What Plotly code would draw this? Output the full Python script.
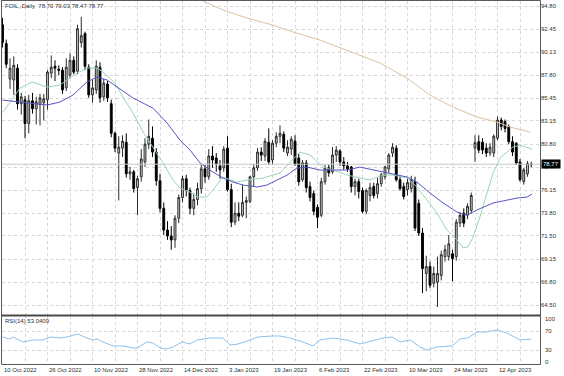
import plotly.graph_objects as go

# ---------------- data ----------------
opens = [92.9, 91.0, 87.4, 87.3, 88.5, 84.9, 85.3, 82.9, 85.2, 84.4, 84.8, 85.0, 85.3, 88.0, 88.7, 88.4, 88.3, 86.5, 87.8, 89.3,
         88.2, 91.1, 92.0, 88.6, 85.8, 86.3, 88.6, 85.6, 86.9, 84.9, 81.9, 79.9, 80.4, 81.0, 77.8, 78.0, 76.4, 77.5, 79.0, 80.8,
         81.4, 80.0, 77.1, 74.3, 72.1, 71.5, 71.1, 73.3, 75.4, 77.3, 76.1, 74.3, 75.2, 76.3, 78.3, 77.5, 79.6, 79.4, 78.6, 78.4,
         80.4, 76.2, 72.9, 73.8, 73.6, 74.9, 75.0, 77.5, 78.4, 80.0, 79.6, 81.0, 79.2, 80.9, 81.6, 81.8, 79.9, 80.3, 81.1, 79.4,
         77.2, 78.9, 76.5, 75.8, 74.4, 73.6, 77.0, 78.4, 78.0, 79.7, 80.1, 79.0, 78.6, 78.5, 76.5, 77.0, 76.1, 74.0, 75.6, 76.5,
         75.8, 76.8, 77.5, 78.3, 79.9, 80.4, 77.2, 76.5, 76.2, 76.3, 77.0, 74.8, 71.8, 67.7, 68.4, 66.7, 66.8, 67.5, 69.4, 69.4,
         69.7, 69.4, 72.8, 73.8, 73.6, 74.1, 80.4, 81.05, 81.0, 80.4, 79.9, 79.9, 81.4, 83.25, 83.1, 82.6, 81.05, 80.9, 79.0, 77.0,
         77.8, 78.70]
highs = [93.6, 91.4, 89.5, 89.7, 88.9, 86.0, 85.7, 85.8, 86.0, 85.6, 85.9, 85.9, 88.3, 89.8, 89.3, 88.8, 88.6, 89.5, 90.0, 89.7,
         92.9, 93.7, 92.2, 88.9, 87.3, 89.3, 89.1, 87.4, 87.2, 85.3, 82.1, 81.6, 81.7, 81.9, 78.5, 78.2, 77.6, 80.3, 81.4, 83.3,
         82.6, 80.4, 77.8, 74.9, 73.0, 72.5, 73.6, 75.7, 77.6, 77.7, 76.4, 75.8, 76.9, 78.8, 78.7, 80.3, 80.6, 79.9, 79.2, 80.6,
         81.6, 76.8, 74.9, 74.9, 76.7, 75.5, 77.6, 78.8, 80.4, 80.5, 81.4, 82.4, 81.2, 82.0, 82.7, 82.1, 81.2, 81.6, 81.7, 79.8,
         79.2, 79.2, 77.0, 76.1, 74.7, 77.4, 78.7, 78.7, 80.5, 80.6, 80.3, 79.5, 79.0, 78.6, 77.3, 77.3, 76.4, 76.3, 76.9, 76.9,
         77.4, 77.9, 78.6, 79.9, 80.9, 80.7, 77.6, 76.9, 77.3, 77.6, 77.5, 75.2, 72.3, 69.5, 68.9, 68.4, 69.4, 70.0, 70.6, 71.6,
         70.1, 73.2, 73.9, 74.3, 74.8, 75.9, 81.7, 81.7, 81.4, 80.9, 80.9, 81.8, 83.6, 83.5, 83.3, 82.8, 81.6, 81.0, 79.3, 78.4,
         79.1, 79.03]
lows = [90.6, 88.5, 86.4, 85.8, 84.3, 83.8, 81.4, 81.9, 83.9, 82.8, 82.7, 83.2, 84.3, 87.5, 87.2, 87.8, 85.9, 86.2, 87.5, 87.9,
        87.9, 90.6, 88.3, 85.5, 85.0, 85.9, 85.0, 85.2, 85.1, 81.5, 80.0, 75.1, 79.5, 77.4, 77.2, 75.9, 73.6, 77.0, 78.5, 80.3,
        79.5, 76.6, 73.9, 71.6, 71.1, 70.1, 70.3, 72.8, 74.9, 75.5, 73.7, 73.6, 74.6, 75.8, 76.9, 77.2, 78.4, 78.0, 77.3, 78.0,
        76.0, 72.4, 72.6, 73.0, 73.4, 73.3, 74.8, 76.5, 78.1, 79.1, 79.1, 78.7, 78.8, 80.5, 80.9, 80.0, 79.6, 79.7, 78.6, 76.6,
        77.0, 75.9, 75.0, 73.6, 72.3, 73.4, 76.7, 77.5, 77.8, 79.0, 78.6, 78.2, 78.0, 75.9, 75.6, 75.3, 73.8, 73.7, 75.0, 75.3,
        75.3, 76.5, 77.2, 77.9, 79.5, 77.0, 76.1, 75.2, 75.6, 75.9, 72.0, 71.5, 65.7, 65.9, 66.2, 66.3, 64.3, 67.0, 68.9, 69.0,
        66.9, 69.0, 72.4, 72.4, 73.2, 73.8, 79.0, 79.9, 79.8, 79.5, 79.6, 79.5, 81.2, 82.2, 82.0, 80.8, 79.6, 78.7, 77.0, 76.7,
        77.5, 78.47]
closes = [91.1, 88.9, 88.5, 88.8, 84.9, 85.6, 82.9, 85.2, 84.4, 85.1, 85.5, 85.4, 88.1, 88.6, 88.5, 88.3, 86.3, 88.6, 89.3, 88.1,
          92.5, 91.8, 88.7, 85.8, 86.5, 88.7, 85.5, 87.0, 85.5, 81.9, 80.4, 80.5, 81.1, 77.8, 78.0, 76.3, 77.3, 79.3, 80.8, 81.6,
          80.0, 77.1, 74.3, 72.1, 71.5, 71.1, 73.3, 75.4, 77.3, 76.1, 74.3, 75.2, 76.3, 78.3, 77.5, 79.6, 79.2, 78.8, 78.2, 80.3,
          76.2, 72.9, 73.8, 73.5, 74.9, 75.1, 77.5, 78.4, 80.0, 79.7, 81.1, 79.0, 80.9, 81.6, 81.9, 80.4, 80.5, 81.3, 78.8, 77.0,
          78.9, 76.4, 75.4, 74.0, 73.4, 77.0, 78.4, 77.9, 79.7, 80.2, 79.0, 78.6, 78.3, 76.5, 77.0, 76.0, 74.0, 76.1, 76.4, 75.6,
          76.8, 77.7, 78.5, 79.7, 80.5, 77.2, 76.3, 75.5, 76.9, 77.2, 72.3, 71.8, 68.2, 68.4, 66.5, 67.7, 67.7, 69.6, 70.1, 70.7,
          69.2, 72.9, 73.6, 72.8, 74.5, 75.6, 80.95, 80.2, 80.2, 79.9, 80.5, 81.6, 83.25, 82.6, 82.4, 81.05, 80.0, 78.9, 77.2, 78.2,
          78.85, 78.77]
bars = list(range(len(closes)))

# moving averages, read at sample bars
ma_fast_bar = [0, 4.7, 7.9, 11.9, 15.3, 19.9, 22.5, 25.2, 26.8, 30, 32.1, 34.8, 37.5, 40.1, 42.8, 45.5, 47.3, 50, 52.1, 54.5,
               56.1, 58.8, 60.7, 62.5, 65.2, 69.5, 74, 76.7, 79.3, 82, 85.5, 88.1, 91.9, 95.3, 98, 101.5, 104.1, 107.9, 110.5,
               113.2, 115.9, 118.5, 121.2, 122.8, 124.1, 125.5, 127.3, 129.2, 130.8, 132.7, 134.5, 136.1, 138, 139.9, 141.2]
ma_fast_val = [84.0, 86.49, 87.10, 86.59, 86.79, 88.01, 88.52, 88.52, 88.11, 87.0, 85.58, 83.96, 82.03, 80.51, 78.89, 77.17,
               76.36, 75.95, 75.44, 75.44, 76.15, 77.47, 77.17, 76.96, 77.17, 77.37, 77.88, 78.99, 80.0, 79.7, 78.48, 78.18,
               77.67, 77.37, 77.17, 77.67, 77.67, 77.37, 76.46, 75.14, 73.82, 72.1, 71.09, 70.28, 70.38, 71.39, 73.42, 75.85,
               77.88, 79.4, 80.0, 80.51, 80.71, 80.51, 80.31]
ma_mid_bar = [0, 4.7, 8.1, 11.9, 15.3, 18.8, 22.5, 25.2, 27.9, 30.5, 34.8, 40.1, 43.9, 47.3, 50, 52.7, 56.1, 58.8, 61.5, 64.1,
              67.9, 70.5, 73.2, 75.9, 78.5, 81.2, 84.7, 88.1, 91.9, 95.3, 98.8, 102.5, 105.2, 107.9, 110.5, 114, 117.5, 121.2,
              123.9, 126.5, 130.8, 134.5, 137.2, 139.9, 141.2]
ma_mid_val = [85.27, 85.07, 84.97, 84.77, 85.07, 85.78, 87.1, 87.6, 87.3, 86.59, 85.48, 84.46, 82.94, 81.22, 80.21, 78.89,
              77.98, 77.37, 76.96, 76.66, 76.46, 76.66, 77.17, 77.67, 78.38, 78.48, 78.18, 78.18, 78.18, 78.48, 78.18, 77.88,
              77.67, 77.47, 76.96, 75.85, 74.84, 73.92, 73.62, 74.13, 74.84, 75.14, 75.34, 75.44, 75.75]
ma_slow_bar = [48, 53.5, 58.8, 65.2, 72.1, 77.5, 84.7, 93.5, 100.7, 102.5, 107.9, 114, 120.1, 126.5, 131.9, 135.3, 140.7]
ma_slow_val = [95.9, 95.3, 94.39, 93.58, 92.87, 92.17, 91.35, 90.04, 89.02, 88.62, 87.5, 85.78, 84.56, 83.55, 83.04, 82.54, 82.03]

rsi_bar = [0, 2, 2.8, 5.5, 8.1, 10.8, 12.7, 15.3, 17.2, 20.1, 22.5, 24.1, 25.2, 26.8, 29.5, 32.1, 34.8, 35.9, 38.5, 40.1, 42,
           43.9, 45.5, 47.9, 50, 51.9, 55.3, 58.8, 60.7, 62.8, 66, 68.1, 71.9, 74, 76.7, 80.1, 82.8, 84.7, 88.1, 91.9, 95.3,
           97.2, 101.5, 103.9, 106, 108.7, 111.3, 113.2, 115.9, 119.9, 122, 124.1, 126.5, 128.7, 131.9, 134.5, 138, 141]
rsi_val = [57.5, 53.3, 57.5, 47.1, 51.3, 51.3, 57.5, 55.4, 57.5, 63.8, 55.4, 51.3, 53.3, 47.1, 38.8, 38.8, 34.6, 34.6, 47.1,
           45.0, 34.6, 32.5, 36.7, 47.1, 42.9, 51.3, 55.4, 55.4, 40.8, 42.9, 51.3, 57.5, 59.6, 59.6, 55.4, 47.1, 38.8, 51.3,
           55.4, 51.3, 42.9, 47.1, 55.4, 57.5, 47.1, 51.3, 36.7, 30.4, 36.7, 38.8, 53.3, 55.4, 67.9, 67.9, 72.1, 65.8, 51.3, 53.0]

date_label_bars = [0, 12, 24, 36, 48, 60, 72, 84, 96, 108, 120, 132]
date_labels = ["10 Oct 2022", "26 Oct 2022", "10 Nov 2022", "28 Nov 2022", "14 Dec 2022", "3 Jan 2023",
               "19 Jan 2023", "6 Feb 2023", "22 Feb 2023", "10 Mar 2023", "24 Mar 2023", "12 Apr 2023"]
price_ticks = [94.80, 92.45, 90.13, 87.80, 85.45, 83.15, 80.80, 78.47, 76.15, 73.80, 71.50, 69.15, 66.80, 64.50]
price_tick_text = ["94.80", "92.45", "90.13", "87.80", "85.45", "83.15", "80.80", "78.47", "76.15", "73.80",
                   "71.50", "69.15", "66.80", "64.50"]
rsi_ticks = [100, 70, 30, 0]
last_price = 78.77
header = "FOIL,,Daily  78.70 79.03 78.47 78.77"
rsi_title = "RSI(14) 53.0409"

# ---------------- layout geometry ----------------
W, H = 564, 376
PL, PR = 2, 540          # plot left/right px
MT, MB = 1, 315          # main panel top/bottom px
RT, RB = 316, 364        # rsi panel top/bottom px
XR = [-0.133, 143.33]
YR = [63.49, 95.31]
RR = [1.25, 101.25]
FONT = "Liberation Sans"
FS = 6
TXT = "#303030"
GRID = "#d6d6d6"

def px(x):
    return x / W

def py(y):
    return (H - y) / H

fig = go.Figure()
fig.add_trace(go.Candlestick(
    x=bars, open=opens, high=highs, low=lows, close=closes,
    increasing=dict(line=dict(color="#2b2b2b", width=1), fillcolor="#d0d0d0"),
    decreasing=dict(line=dict(color="#000000", width=1), fillcolor="#000000"),
    whiskerwidth=0, showlegend=False, hoverinfo="skip", xaxis="x", yaxis="y"))
fig.add_trace(go.Scatter(x=ma_slow_bar, y=ma_slow_val, mode="lines", line=dict(color="#dcc3a2", width=1),
                         showlegend=False, hoverinfo="skip", xaxis="x", yaxis="y"))
fig.add_trace(go.Scatter(x=ma_fast_bar, y=ma_fast_val, mode="lines", line=dict(color="#9cd4b8", width=1),
                         showlegend=False, hoverinfo="skip", xaxis="x", yaxis="y"))
fig.add_trace(go.Scatter(x=ma_mid_bar, y=ma_mid_val, mode="lines", line=dict(color="#5656c4", width=1),
                         showlegend=False, hoverinfo="skip", xaxis="x", yaxis="y"))
fig.add_trace(go.Scatter(x=rsi_bar, y=rsi_val, mode="lines", line=dict(color="#8fc0ea", width=1),
                         showlegend=False, hoverinfo="skip", xaxis="x2", yaxis="y2"))

grid_x = list(range(6, 144, 6))
common_x = dict(domain=[px(PL), px(PR)], range=XR, tickvals=grid_x, showticklabels=False, ticks="",
                showgrid=True, gridcolor=GRID, griddash="dot", gridwidth=1, zeroline=False, showline=False,
                fixedrange=True)
fig.update_layout(
    width=W, height=H, autosize=False,
    margin=dict(l=0, r=0, t=0, b=0, pad=0),
    paper_bgcolor="white", plot_bgcolor="white",
    font=dict(family=FONT, size=FS, color=TXT),
    xaxis=dict(anchor="y", rangeslider=dict(visible=False), **common_x),
    xaxis2=dict(anchor="y2", **common_x),
    yaxis=dict(domain=[py(MB), py(MT)], range=YR, side="right", anchor="x",
               tickvals=price_ticks, ticktext=price_tick_text, ticks="",
               tickfont=dict(family=FONT, size=FS, color=TXT),
               showgrid=True, gridcolor=GRID, griddash="dot", gridwidth=1, zeroline=False, showline=False),
    yaxis2=dict(domain=[py(RB), py(RT)], range=RR, side="right", anchor="x2",
                tickvals=[30, 70], showticklabels=False, ticks="",
                showgrid=True, gridcolor=GRID, griddash="dot", gridwidth=1, zeroline=False, showline=False),
)

shapes = [
    dict(type="line", xref="x", yref="y", x0=XR[0], x1=XR[1], y0=last_price, y1=last_price,
         line=dict(color="#c8c8c8", width=1)),
    dict(type="rect", xref="paper", yref="paper", x0=px(1.5), x1=px(PR + 0.5), y0=py(RB + 0.5), y1=py(0.5),
         line=dict(color="#5a5a5a", width=1)),
    dict(type="line", xref="paper", yref="paper", x0=px(1.5), x1=px(PR + 0.5), y0=py(315.5), y1=py(315.5),
         line=dict(color="#4a4a4a", width=2)),
]
fig.update_layout(shapes=shapes)

ann = []
ann.append(dict(xref="paper", yref="paper", x=px(3), y=py(6), text=header, showarrow=False,
                xanchor="left", yanchor="middle", font=dict(family=FONT, size=FS, color=TXT)))
ann.append(dict(xref="paper", yref="paper", x=px(3), y=py(321), text=rsi_title, showarrow=False,
                xanchor="left", yanchor="middle", font=dict(family=FONT, size=FS, color=TXT)))
rsi_label_y = [319, 331, 350, 362]
for v, yy in zip(rsi_ticks, rsi_label_y):
    ann.append(dict(xref="paper", yref="paper", x=px(543), y=py(yy), text=str(v), showarrow=False,
                    xanchor="left", yanchor="middle", font=dict(family=FONT, size=FS, color=TXT)))
for b, lab in zip(date_label_bars, date_labels):
    ann.append(dict(xref="x2", yref="paper", x=b - 0.1, y=py(369.5), text=lab, showarrow=False,
                    xanchor="left", yanchor="middle", font=dict(family=FONT, size=FS, color=TXT)))
ann.append(dict(xref="paper", yref="y", x=px(541), y=last_price, text=f"{last_price:.2f}", showarrow=False,
                xanchor="left", yanchor="middle", bgcolor="#000000", borderpad=1,
                font=dict(family=FONT, size=FS, color="white")))
fig.update_layout(annotations=ann)

fig.write_html("out.html", config={"displayModeBar": False})

# remove the browser's default page margin so the 564x376 figure fills the window exactly
with open("out.html", "r", encoding="utf-8") as fh:
    page = fh.read()
page = page.replace("<head>", "<head><style>html,body{margin:0;padding:0;overflow:hidden;}</style>", 1)
with open("out.html", "w", encoding="utf-8") as fh:
    fh.write(page)
